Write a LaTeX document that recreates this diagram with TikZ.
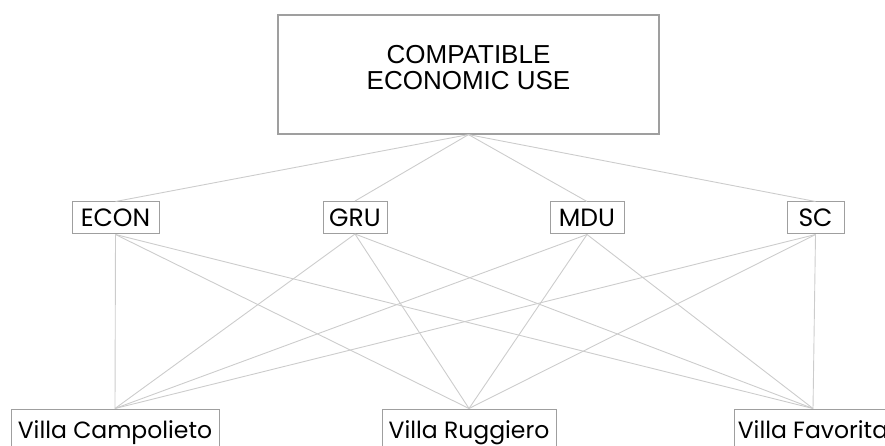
\documentclass[tikz,border=0pt]{standalone}
\usepackage{fontspec}
\setmainfont{Liberation Sans}
\newfontfamily\villafont{Poppins}
\usepackage{tikz}

\tikzset{
  usebox/.style={draw=gray!75, line width=1.2pt, minimum width=381pt, minimum height=119pt},
  critbox/.style={draw=gray!75, line width=1pt, minimum height=32pt, inner sep=0pt, font=\villafont\fontsize{25}{30}\selectfont},
  villabox/.style={draw=gray!75, line width=1pt, minimum height=48pt, inner sep=0pt, text height=17pt, text depth=6pt, font=\villafont\fontsize{23.5}{28}\selectfont},
  link/.style={draw=gray!40, line width=0.9pt}
}

\begin{document}
\begin{tikzpicture}[x=1pt,y=-1pt]
\useasboundingbox[clip] (0,0) rectangle (885,446);

% goal
\node[usebox] (use) at (468.5,74.5) {};
\node[align=center, font=\fontsize{26}{26}\selectfont] (usetext) at (468.5,68) {COMPATIBLE\\ECONOMIC USE};

% criteria
\node[critbox, minimum width=87pt] (econ) at (115.5,218) {ECON};
\node[critbox, minimum width=64pt] (gru) at (355,217.5) {GRU};
\node[critbox, minimum width=74pt] (mdu) at (587,218) {MDU};
\node[critbox, minimum width=57pt] (sc) at (815.5,218) {SC};

% alternatives
\node[villabox, minimum width=208pt] (camp) at (115,433) {Villa Campolieto};
\node[villabox, minimum width=174pt] (rugg) at (469,433) {Villa Ruggiero};
\node[villabox, minimum width=158pt] (fav) at (813,433) {Villa Favorita};

\foreach \c in {econ,gru,mdu,sc} {
  \draw[link] (use.south) -- (\c.north);
  \foreach \v in {camp,rugg,fav}
    \draw[link] (\c.south) -- (\v.north);
}
\end{tikzpicture}
\end{document}
